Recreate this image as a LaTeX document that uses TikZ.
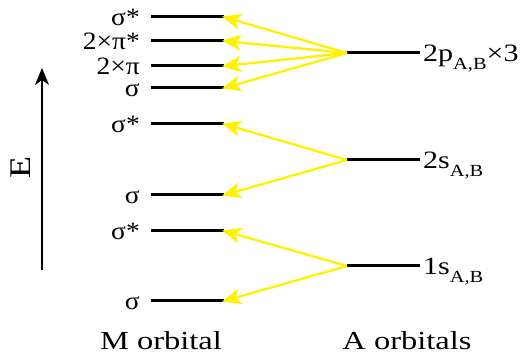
\documentclass[tikz,border=0pt]{standalone}
\usepackage{fontspec}
\setmainfont{Liberation Serif}[FakeStretch=1.2]
\newfontfamily\widefont{Liberation Serif}[FakeStretch=1.25]
\newfontfamily\grkfont{Liberation Serif}[FakeStretch=1.1]
\usetikzlibrary{arrows.meta}

\newcommand\lowsub[1]{\raisebox{-0.3em}{\fontsize{17}{20}\selectfont #1}}

\begin{document}
\begin{tikzpicture}[
  x=1pt, y={(0pt,-1pt)},
  level/.style={line width=3pt},
  lbl/.style={inner sep=0pt, font=\fontsize{25}{30}\selectfont},
  mo/.style={lbl, anchor=base east, font=\fontsize{25}{30}\selectfont\grkfont},
  ao/.style={lbl, anchor=base west},
  mix/.style={-{Stealth[length=19pt, width=16pt, inset=5pt]}, line width=2.3pt, draw=yellow, shorten >=-2pt},
  axis/.style={-{Stealth[length=17pt, width=14pt, inset=5pt]}, line width=1.3pt}
]
\useasboundingbox (0,0) rectangle (523,358);
% M orbital levels
\coordinate (m1l) at (151,17);  \coordinate (m1r) at (224,17);
\coordinate (m2l) at (151,41);  \coordinate (m2r) at (224,41);
\coordinate (m3l) at (151,66);  \coordinate (m3r) at (224,66);
\coordinate (m4l) at (151,88);  \coordinate (m4r) at (224,88);
\coordinate (m5l) at (151,124); \coordinate (m5r) at (224,124);
\coordinate (m6l) at (151,195); \coordinate (m6r) at (224,195);
\coordinate (m7l) at (151,231); \coordinate (m7r) at (224,231);
\coordinate (m8l) at (151,301); \coordinate (m8r) at (224,301);
% A orbital levels
\coordinate (a1l) at (347,53);  \coordinate (a1r) at (420,53);
\coordinate (a2l) at (347,160); \coordinate (a2r) at (420,160);
\coordinate (a3l) at (347,266); \coordinate (a3r) at (420,266);
\foreach \x in {m1,m2,m3,m4,m5,m6,m7,m8,a1,a2,a3} \draw[level] (\x l)--(\x r);
% labels
\node[mo] (l1) at (140,26) {σ*};
\node[mo] (l2) at (140,50) {2×π*};
\node[mo] (l3) at (140,75) {2×π};
\node[mo] (l4) at (140,97) {σ};
\node[mo] (l5) at (140,133) {σ*};
\node[mo] (l6) at (140,204) {σ};
\node[mo] (l7) at (140,240) {σ*};
\node[mo] (l8) at (140,310) {σ};
\node[ao] (r1) at (423,62) {2p\lowsub{A,B}×3};
\node[ao] (r2) at (423,169) {2s\lowsub{A,B}};
\node[ao] (r3) at (423,275) {1s\lowsub{A,B}};
\node[lbl, anchor=base, font=\fontsize{26}{30}\selectfont\widefont] (mot) at (161,350) {M orbital};
\node[lbl, anchor=base, font=\fontsize{26}{30}\selectfont\widefont] (aot) at (407,350) {A orbitals};
% energy axis
\coordinate (e0) at (42,270);
\coordinate (e1) at (42,68);
\draw[axis] (e0)--(e1);
\node[lbl, rotate=90, font=\fontsize{30}{32}\selectfont] (en) at (21,168) {E};
% yellow connectors
\foreach \x/\y in {a1/m1,a1/m2,a1/m3,a1/m4,a2/m5,a2/m6,a3/m7,a3/m8} \draw[mix] (\x l)--(\y r);
\end{tikzpicture}
\end{document}
